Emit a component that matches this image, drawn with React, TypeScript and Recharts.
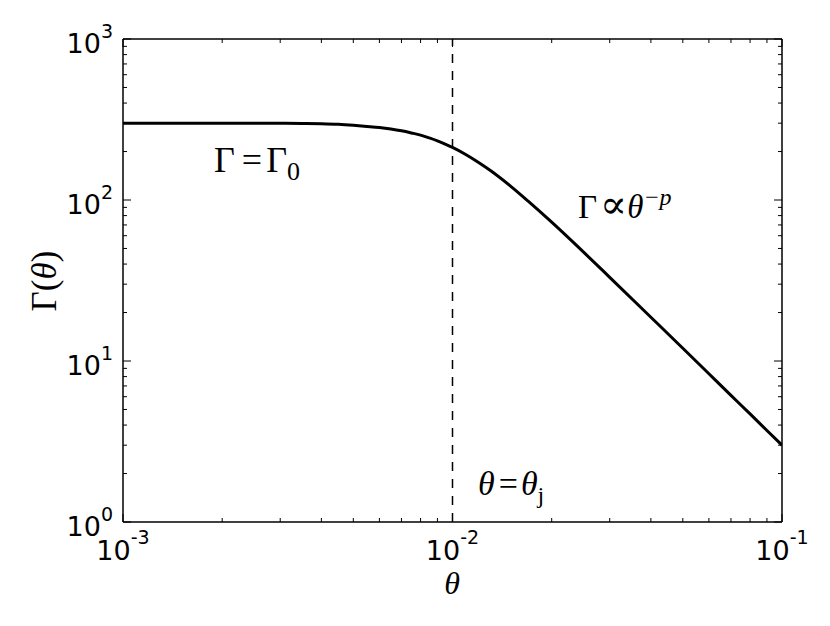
import { LineChart, Line, XAxis, YAxis, ReferenceLine } from "recharts";

// angle from the jet axis (rad)
const theta = [
  0.001, 0.002, 0.003, 0.0035, 0.004, 0.0045, 0.005, 0.0055, 0.006, 0.0065,
  0.007, 0.0075, 0.008, 0.0085, 0.009, 0.0095, 0.01, 0.011, 0.012, 0.013,
  0.015, 0.017, 0.02, 0.025, 0.03, 0.04, 0.05, 0.06, 0.07, 0.08, 0.09, 0.1,
];
// Lorentz factor
const gamma = [
  300, 300, 299.5, 299, 297.5, 295, 291, 286.5, 282, 276, 269, 261, 253, 243,
  233, 222.5, 212, 191, 171, 153, 122, 98, 72.8, 47.4, 33.1, 18.7, 12.0, 8.33,
  6.12, 4.69, 3.7, 3.0,
];

const xTicks = [
  0.001, 0.002, 0.003, 0.004, 0.005, 0.006, 0.007, 0.008, 0.009,
  0.01, 0.02, 0.03, 0.04, 0.05, 0.06, 0.07, 0.08, 0.09, 0.1,
];
const yTicks = [
  1, 2, 3, 4, 5, 6, 7, 8, 9,
  10, 20, 30, 40, 50, 60, 70, 80, 90,
  100, 200, 300, 400, 500, 600, 700, 800, 900, 1000,
];

const jetAngle = 0.01;

const data = theta.map((t, i) => ({ theta: t, gamma: gamma[i] }));

const W = 830;
const H = 626;
const SANS = "DejaVu Sans, sans-serif";
const SERIF = "Liberation Serif, DejaVu Serif, serif";

const isMajor = (v: number) => {
  const l = Math.log10(v);
  return Math.abs(l - Math.round(l)) < 1e-6;
};

function LogTick(props: any) {
  const { x, y, payload, side } = props;
  const v = payload.value;
  const major = isMajor(v);
  const len = major ? 8 : 4;
  const exp = Math.round(Math.log10(v));
  let line;
  if (side === "bottom") line = <line x1={x} x2={x} y1={y} y2={y - len} stroke="#000" strokeWidth={1} />;
  else if (side === "top") line = <line x1={x} x2={x} y1={y} y2={y + len} stroke="#000" strokeWidth={1} />;
  else if (side === "left") line = <line x1={x} x2={x + len} y1={y} y2={y} stroke="#000" strokeWidth={1} />;
  else line = <line x1={x} x2={x - len} y1={y} y2={y} stroke="#000" strokeWidth={1} />;

  let label = null;
  if (major && side === "bottom") {
    label = (
      <text x={x} y={y + 38} textAnchor="middle" fontFamily={SANS} fontSize={27} fill="#000">
        10<tspan dy={-16} fontSize={19}>{String(exp)}</tspan>
      </text>
    );
  } else if (major && side === "left") {
    label = (
      <text x={x - 10} y={y + 14} textAnchor="end" fontFamily={SANS} fontSize={27} fill="#000">
        10<tspan dy={-15} fontSize={19}>{String(exp)}</tspan>
      </text>
    );
  }
  return (
    <g>
      {line}
      {label}
    </g>
  );
}

const axisLine = { stroke: "#000", strokeWidth: 1.5 };

export default function App() {
  return (
    <div style={{ position: "absolute", left: 0, top: 0, width: W, height: H, background: "#fff" }}>
      <LineChart width={W} height={H} data={data} margin={{ top: 38, right: 47, bottom: 103, left: 122 }}>
        <XAxis
          xAxisId="b"
          dataKey="theta"
          type="number"
          scale="log"
          domain={[0.001, 0.1]}
          ticks={xTicks}
          interval={0}
          height={1}
          tickSize={0}
          tickMargin={0}
          tickLine={false}
          axisLine={axisLine}
          tick={(p: any) => <LogTick {...p} side="bottom" />}
          allowDataOverflow
        />
        <XAxis
          xAxisId="t"
          orientation="top"
          dataKey="theta"
          type="number"
          scale="log"
          domain={[0.001, 0.1]}
          ticks={xTicks}
          interval={0}
          height={1}
          tickSize={0}
          tickMargin={0}
          tickLine={false}
          axisLine={axisLine}
          tick={(p: any) => <LogTick {...p} side="top" />}
          allowDataOverflow
        />
        <YAxis
          yAxisId="l"
          type="number"
          scale="log"
          domain={[1, 1000]}
          ticks={yTicks}
          interval={0}
          width={1}
          tickSize={0}
          tickMargin={0}
          tickLine={false}
          axisLine={axisLine}
          tick={(p: any) => <LogTick {...p} side="left" />}
          allowDataOverflow
        />
        <YAxis
          yAxisId="r"
          orientation="right"
          type="number"
          scale="log"
          domain={[1, 1000]}
          ticks={yTicks}
          interval={0}
          width={1}
          tickSize={0}
          tickMargin={0}
          tickLine={false}
          axisLine={axisLine}
          tick={(p: any) => <LogTick {...p} side="right" />}
          allowDataOverflow
        />
        <ReferenceLine
          xAxisId="b"
          yAxisId="l"
          x={jetAngle}
          stroke="#000"
          strokeWidth={1.5}
          strokeDasharray="9 8"
        />
        <Line
          xAxisId="b"
          yAxisId="l"
          dataKey="gamma"
          type="monotone"
          stroke="#000"
          strokeWidth={3}
          dot={false}
          isAnimationActive={false}
        />
      </LineChart>
      <svg
        width={W}
        height={H}
        style={{ position: "absolute", left: 0, top: 0, pointerEvents: "none" }}
      >
        <text x={452} y={594} textAnchor="middle" fontFamily={SERIF} fontStyle="italic" fontSize={32} fill="#000">
          θ
        </text>
        <text
          transform="translate(56,281) rotate(-90)"
          textAnchor="middle"
          fontFamily={SERIF}
          fontSize={35}
          fill="#000"
        >
          Γ(<tspan fontStyle="italic">θ</tspan>)
        </text>
        <text x={214} y={172} fontFamily={SERIF} fontSize={36} fill="#000">
          Γ<tspan dx={7}>=</tspan><tspan dx={4}>Γ</tspan>
          <tspan dy={8} fontSize={26}>0</tspan>
        </text>
        <text x={578} y={218} fontFamily={SERIF} fontSize={33} fill="#000">
          Γ<tspan dx={3} fontFamily="DejaVu Serif, serif" fontSize={40}>∝</tspan>
          <tspan fontStyle="italic">θ</tspan>
          <tspan dy={-13} fontSize={24} fontStyle="italic">−p</tspan>
        </text>
        <text x={478} y={495} fontFamily={SERIF} fontSize={34} fill="#000">
          <tspan fontStyle="italic">θ</tspan>
          <tspan dx={4}>=</tspan>
          <tspan dx={3} fontStyle="italic">θ</tspan>
          <tspan dy={8} fontSize={24}>j</tspan>
        </text>
      </svg>
    </div>
  );
}
